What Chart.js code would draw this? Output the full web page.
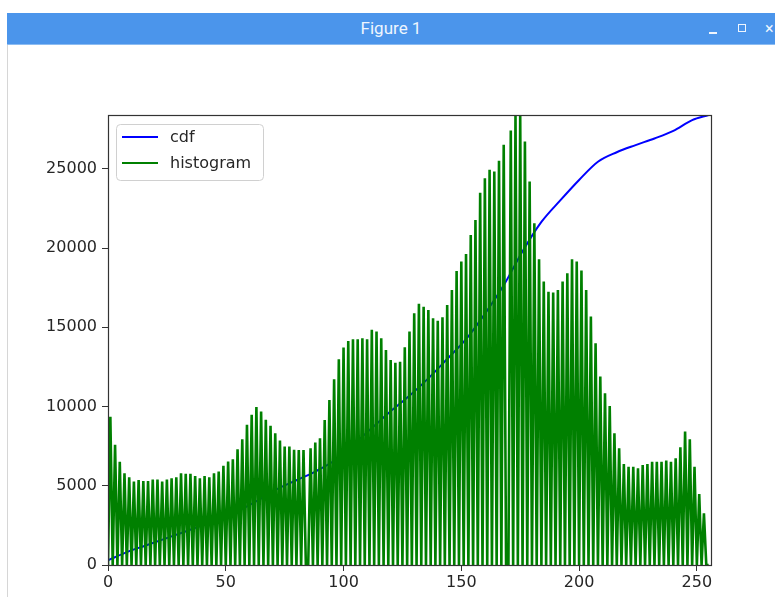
<!DOCTYPE html>
<html>
<head>
<meta charset="utf-8">
<script src="https://cdn.jsdelivr.net/npm/chart.js@4/dist/chart.umd.min.js"></script>
<style>
  body { margin:0; background:#fff; width:775px; height:597px; overflow:hidden; position:relative; }
  #bar { position:absolute; left:7px; top:13px; width:768px; height:31px; background:#4b95eb; border-bottom:1px solid #8cbcf2;
         color:#eef5fe; font:17px Roboto, sans-serif; text-align:center; line-height:31px; z-index:2; }
  #bar .min { position:absolute; left:702px; top:19px; width:8px; height:2px; background:#eef5fe; }
  #bar .max { position:absolute; left:731px; top:11px; width:6px; height:6px; border:1px solid #eef5fe; }
  #bar .cls { position:absolute; left:758px; top:0; font-size:16px; }
  #edge { position:absolute; left:7px; top:45px; width:1px; height:552px; background:#d6d6d6; z-index:2; }
  canvas { position:absolute; left:0; top:0; }
</style>
</head>
<body>
<div id="bar">Figure 1<span class="min"></span><span class="max"></span><span class="cls">×</span></div>
<div id="edge"></div>
<canvas id="plot" width="775" height="597"></canvas>
<script>
// histogram of grey levels 0..255 (every other bin is empty)
var bins = Array.from({length: 256}, (_, i) => i);
var histogram = [
  0, 9360, 0, 7580, 0, 6520, 0, 5790, 0, 5530, 0, 5260, 0, 5370, 0, 5300,
  0, 5300, 0, 5400, 0, 5400, 0, 5260, 0, 5400, 0, 5470, 0, 5530, 0, 5790,
  0, 5750, 0, 5750, 0, 5620, 0, 5470, 0, 5620, 0, 5530, 0, 5790, 0, 5900,
  0, 6260, 0, 6530, 0, 6680, 0, 7310, 0, 7940, 0, 8850, 0, 9480, 0, 9970,
  0, 9690, 0, 9170, 0, 8790, 0, 8320, 0, 7860, 0, 7480, 0, 7480, 0, 7270,
  0, 7260, 0, 7260, 0, 0, 7360, 0, 7730, 0, 8000, 0, 9150, 0, 10420, 0,
  11720, 0, 12990, 0, 13720, 0, 14140, 0, 14250, 0, 14250, 0, 14310, 0, 14250, 0,
  14840, 0, 14730, 0, 14310, 0, 13570, 0, 12940, 0, 12770, 0, 12830, 0, 13740, 0,
  14730, 0, 15890, 0, 16480, 0, 16290, 0, 16100, 0, 15570, 0, 15420, 0, 15640, 0,
  16410, 0, 17360, 0, 18560, 0, 19150, 0, 19630, 0, 20830, 0, 21780, 0, 23500, 0,
  24410, 0, 24940, 0, 24830, 0, 25520, 0, 26520, 0, 0, 27420, 0, 28450, 0, 28400,
  0, 26730, 0, 24200, 0, 21570, 0, 19300, 0, 17890, 0, 17250, 0, 17190, 0, 17360,
  0, 17890, 0, 18410, 0, 19300, 0, 19150, 0, 18580, 0, 17360, 0, 15680, 0, 14000,
  0, 11890, 0, 10840, 0, 10040, 0, 8310, 0, 7370, 0, 6380, 0, 6200, 0, 6200,
  0, 6100, 0, 6310, 0, 6380, 0, 6520, 0, 6520, 0, 6520, 0, 6590, 0, 6520,
  0, 6730, 0, 7430, 0, 8420, 0, 7940, 0, 6200, 0, 4480, 0, 3260, 0, 0
];
// normalised cdf
var cdfBins   = [0, 8, 16, 24, 32, 40, 48, 56, 64, 72, 80, 88, 96, 104, 112, 120, 128,
                 136, 144, 152, 160, 168, 176, 184, 192, 200, 208, 216, 224, 232, 240, 248, 255];
var cdfValues = [300, 810, 1230, 1650, 2070, 2510, 2960, 3470, 4110, 4810, 5350, 5900, 6580, 7580, 8640, 9700, 10680,
                 11780, 13000, 14250, 15850, 17650, 19800, 21650, 23010, 24300, 25450, 26050, 26500, 26920, 27400, 28080, 28400];
var xTicks = [0, 50, 100, 150, 200, 250];
var yTicks = [0, 5000, 10000, 15000, 20000, 25000];

var font = {family: 'DejaVu Sans', size: 16};
var ink = '#262626';

// box around the plot like matplotlib spines
var frame = {
  id: 'frame',
  afterDatasetsDraw: function(chart) {
    var ctx = chart.ctx, a = chart.chartArea;
    ctx.save();
    ctx.strokeStyle = '#333';
    ctx.lineWidth = 1.2;
    ctx.strokeRect(a.left + 0.5, a.top + 0.5, a.right - a.left, a.bottom - a.top);
    ctx.restore();
  }
};

// legend inside the axes, upper left
var insetLegend = {
  id: 'insetLegend',
  afterDraw: function(chart) {
    var ctx = chart.ctx, a = chart.chartArea;
    var x = a.left + 8, y = a.top + 9, w = 147, h = 56;
    ctx.save();
    ctx.beginPath();
    ctx.roundRect(x + 0.5, y + 0.5, w, h, 4);
    ctx.fillStyle = 'rgba(255,255,255,0.8)';
    ctx.fill();
    ctx.strokeStyle = '#d0d0d0';
    ctx.lineWidth = 1;
    ctx.stroke();
    ctx.font = '16px "DejaVu Sans"';
    ctx.textBaseline = 'middle';
    chart.data.datasets.forEach(function(ds, i) {
      var cy = y + 13 + i * 26;
      ctx.beginPath();
      ctx.moveTo(x + 6, cy);
      ctx.lineTo(x + 42, cy);
      ctx.strokeStyle = ds.borderColor;
      ctx.lineWidth = 2;
      ctx.stroke();
      ctx.fillStyle = ink;
      ctx.fillText(ds.label, x + 54, cy + 1);
    });
    ctx.restore();
  }
};

var ctx = document.getElementById('plot').getContext('2d');
var chart = new Chart(ctx, {
  type: 'line',
  data: {
    datasets: [{
      label: 'cdf',
      data: cdfBins.map(function(b, i) { return {x: b, y: cdfValues[i]}; }),
      borderColor: '#0000ff',
      borderWidth: 2,
      pointRadius: 0,
      cubicInterpolationMode: 'monotone',
      order: 1
    }, {
      label: 'histogram',
      data: bins.map(function(b, i) { return {x: b, y: histogram[i]}; }),
      borderColor: '#008000',
      borderWidth: 2.6,
      pointRadius: 0,
      order: 0
    }]
  },
  options: {
    responsive: false,
    animation: false,
    devicePixelRatio: 1,
    layout: {padding: {top: 115, right: 64, bottom: 0, left: 0}},
    plugins: {legend: {display: false}, tooltip: {enabled: false}},
    scales: {
      x: {
        type: 'linear', min: 0, max: 256,
        afterBuildTicks: function(s) { s.ticks = xTicks.map(function(v) { return {value: v}; }); },
        afterFit: function(s) { s.height = 32; },
        grid: {drawOnChartArea: false, drawTicks: true, tickLength: 6, color: '#333'},
        border: {display: false},
        ticks: {color: ink, font: font, padding: 2, maxRotation: 0, autoSkip: false,
                callback: function(v) { return String(v); }}
      },
      y: {
        type: 'linear', min: 0, max: 28400,
        afterBuildTicks: function(s) { s.ticks = yTicks.map(function(v) { return {value: v}; }); },
        afterFit: function(s) { s.width = 108; },
        grid: {drawOnChartArea: false, drawTicks: true, tickLength: 6, color: '#333'},
        border: {display: false},
        ticks: {color: ink, font: font, padding: 5, autoSkip: false,
                callback: function(v) { return String(v); }}
      }
    }
  },
  plugins: [frame, insetLegend]
});
</script>
</body>
</html>
